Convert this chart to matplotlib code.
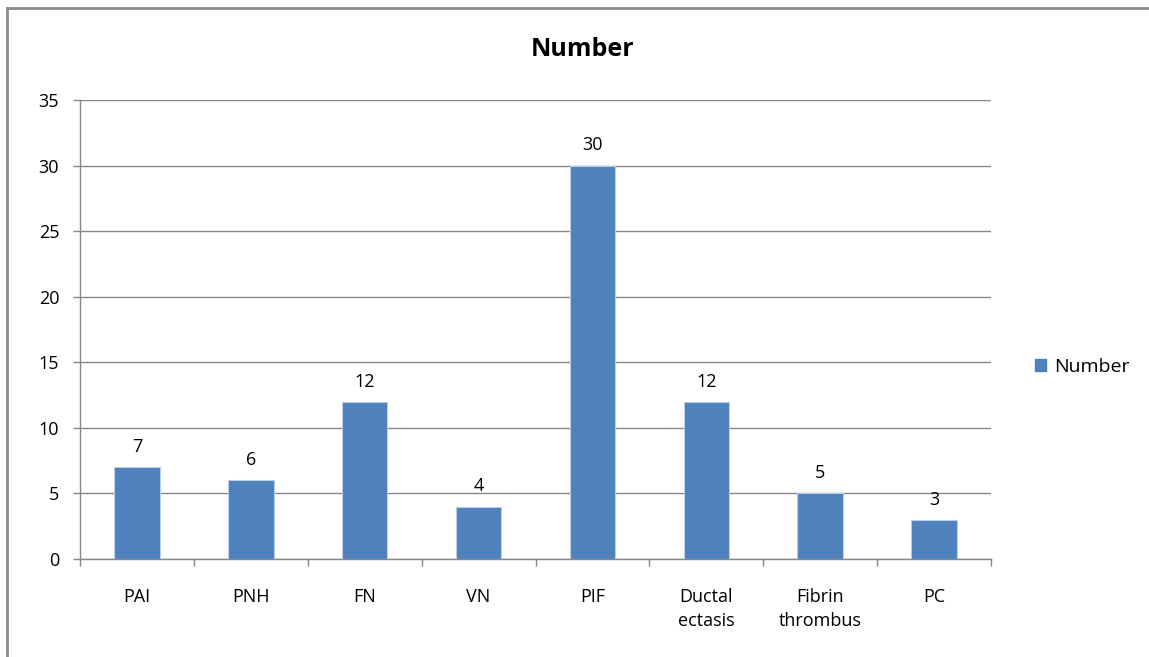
import matplotlib
matplotlib.use("Agg")
import matplotlib.pyplot as plt
from matplotlib.lines import Line2D
from matplotlib.patches import Patch

categories = ["PAI", "PNH", "FN", "VN", "PIF", "Ductal\nectasis", "Fibrin\nthrombus", "PC"]
counts = [7, 6, 12, 4, 30, 12, 5, 3]
yticks = [0, 5, 10, 15, 20, 25, 30, 35]

bar_color = "#4F81BD"
grid_color = "#878787"
plt.rcParams["font.family"] = ["Open Sans", "DejaVu Sans"]

W, H = 1149, 657
fig = plt.figure(figsize=(W / 100, H / 100), dpi=100)
ax = fig.add_axes([80 / W, (H - 559) / H, (991 - 80) / W, (559 - 100) / H])

x = list(range(len(categories)))
bars = ax.bar(x, counts, width=0.4, color=bar_color, edgecolor="#B9CDE5", linewidth=0.8, zorder=3)
for xi, v in zip(x, counts):
    ax.annotate(str(v), (xi, v), xytext=(0, 8), textcoords="offset points",
                ha="center", va="bottom", fontsize=13)

ax.set_xlim(-0.5, len(categories) - 0.5)
ax.set_ylim(0, 35)
ax.set_yticks(yticks)
ax.set_yticklabels([str(t) for t in yticks], fontsize=13)
ax.yaxis.grid(True, color=grid_color, linewidth=1, zorder=0)
ax.tick_params(axis="y", length=5, width=1, color=grid_color, pad=10)

ax.set_xticks(x)
ax.set_xticklabels(categories, fontsize=13, linespacing=1.45)
ax.set_xticks([i - 0.5 for i in range(len(categories) + 1)], minor=True)
ax.tick_params(axis="x", which="major", length=0, pad=21)
ax.tick_params(axis="x", which="minor", length=5, width=1, color=grid_color)

for side in ["top", "right"]:
    ax.spines[side].set_visible(False)
for side in ["left", "bottom"]:
    ax.spines[side].set_color(grid_color)
    ax.spines[side].set_linewidth(1)

fig.text(583 / W, 1 - 50 / H, "Number", ha="center", va="center", fontsize=18, fontweight="bold")

fig.legend(handles=[Patch(color=bar_color, label="Number")], loc="center left",
           bbox_to_anchor=(1017 / W, 1 - 367 / H), frameon=False, fontsize=14,
           handlelength=0.6, handleheight=0.6, handletextpad=0.4)

# chart border (left and top visible in the crop)
fig.add_artist(Line2D([7 / W, 7 / W], [0, 1 - 8 / H], transform=fig.transFigure, color="#8C8C8C", linewidth=2))
fig.add_artist(Line2D([7 / W, 1], [1 - 8 / H, 1 - 8 / H], transform=fig.transFigure, color="#8C8C8C", linewidth=2))

fig.savefig("out.png", dpi=100)
